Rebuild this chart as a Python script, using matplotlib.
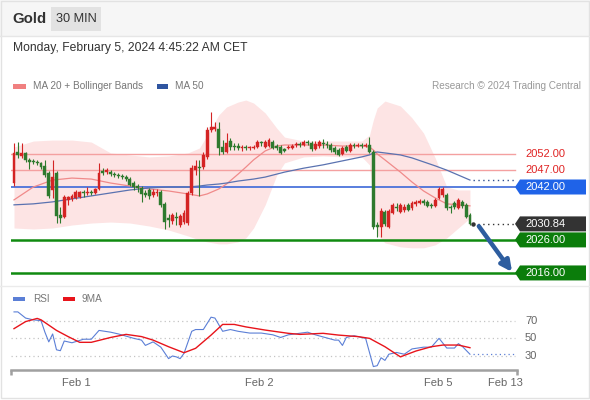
import matplotlib
matplotlib.use("Agg")
import matplotlib.pyplot as plt
import matplotlib.transforms as mtransforms
from matplotlib.patches import Polygon, Rectangle
from matplotlib.lines import Line2D

plt.rcParams['font.family'] = ['Liberation Sans', 'DejaVu Sans']

# ---------------- data ----------------
opens = [2043.2, 2052.6, 2051.4, 2052.3, 2050.2, 2049.9, 2049.6, 2049.3, 2048.4, 2046.2,
         2041.1, 2046.2, 2033.5, 2032.9, 2038.1, 2038.4, 2038.7, 2039.0, 2040.2, 2040.2,
         2040.5, 2040.2, 2041.4, 2046.8, 2046.5, 2046.5, 2045.9, 2045.6, 2045.3, 2045.0,
         2044.4, 2043.2, 2042.3, 2041.7, 2040.2, 2041.1, 2039.6, 2040.2, 2040.5, 2036.9,
         2032.6, 2031.7, 2032.9, 2030.5, 2031.4, 2031.1, 2040.2, 2047.1, 2048.2, 2048.0,
         2051.1, 2059.2, 2059.5, 2059.5, 2054.1, 2052.6, 2055.9, 2054.4, 2054.4, 2053.8,
         2054.1, 2053.8, 2053.8, 2054.1, 2055.3, 2054.1, 2054.4, 2055.6, 2054.4, 2054.1,
         2053.2, 2053.8, 2053.8, 2054.7, 2055.0, 2054.7, 2055.6, 2055.3, 2053.5, 2054.4,
         2055.3, 2055.0, 2054.7, 2053.8, 2053.2, 2052.0, 2054.1, 2052.9, 2054.7, 2054.4,
         2054.7, 2054.4, 2054.7, 2052.6, 2030.5, 2029.9, 2034.4, 2029.9, 2034.1, 2036.0,
         2034.4, 2035.0, 2036.6, 2035.6, 2036.9, 2037.2, 2037.8, 2037.5, 2036.6, 2036.3,
         2038.7, 2039.6, 2039.6, 2036.0, 2037.2, 2035.6, 2037.5, 2036.6, 2033.5]
highs = [2055.3, 2055.6, 2055.3, 2052.6, 2050.8, 2050.5, 2050.2, 2049.6, 2050.2, 2046.8,
         2050.2, 2046.8, 2036.0, 2039.6, 2039.3, 2039.9, 2041.1, 2040.8, 2041.1, 2042.0,
         2041.1, 2041.7, 2049.3, 2047.7, 2047.7, 2047.1, 2046.5, 2046.2, 2045.9, 2045.6,
         2045.0, 2043.8, 2042.9, 2042.3, 2041.1, 2041.7, 2041.4, 2041.4, 2041.1, 2037.5,
         2033.8, 2034.1, 2034.4, 2033.8, 2035.0, 2040.8, 2048.7, 2050.2, 2050.2, 2052.6,
         2060.1, 2064.7, 2061.7, 2061.7, 2056.2, 2058.3, 2056.8, 2055.3, 2055.3, 2054.7,
         2054.7, 2054.4, 2054.7, 2056.2, 2055.9, 2056.2, 2056.8, 2056.2, 2055.0, 2054.7,
         2053.8, 2054.7, 2055.0, 2055.6, 2055.6, 2056.2, 2056.2, 2055.9, 2055.9, 2056.2,
         2056.5, 2055.9, 2055.3, 2054.4, 2053.8, 2054.4, 2054.7, 2055.3, 2055.3, 2055.3,
         2055.3, 2055.3, 2057.1, 2053.2, 2031.4, 2035.6, 2035.0, 2035.3, 2037.2, 2037.2,
         2037.2, 2036.9, 2037.2, 2037.8, 2038.1, 2038.4, 2038.4, 2038.1, 2037.2, 2038.7,
         2042.0, 2042.0, 2040.2, 2036.6, 2037.8, 2038.7, 2038.1, 2037.2, 2034.1]
lows = [2042.3, 2050.8, 2050.8, 2049.6, 2047.4, 2049.0, 2048.7, 2047.4, 2045.0, 2038.7,
        2038.7, 2031.1, 2031.1, 2032.6, 2036.6, 2037.8, 2038.4, 2038.7, 2039.0, 2039.6,
        2039.6, 2039.9, 2041.1, 2045.6, 2045.9, 2045.3, 2045.0, 2044.7, 2044.4, 2043.8,
        2042.3, 2041.1, 2040.5, 2037.5, 2039.0, 2038.4, 2039.0, 2039.3, 2036.0, 2029.3,
        2029.9, 2030.8, 2030.5, 2029.9, 2030.8, 2030.5, 2039.6, 2045.6, 2039.3, 2047.4,
        2050.5, 2058.6, 2058.9, 2051.7, 2052.0, 2052.3, 2053.2, 2053.2, 2053.2, 2052.9,
        2053.2, 2053.2, 2053.5, 2053.8, 2054.4, 2053.8, 2054.1, 2053.5, 2053.2, 2052.0,
        2052.6, 2053.5, 2053.5, 2054.1, 2054.1, 2054.4, 2054.7, 2052.9, 2053.2, 2053.8,
        2053.8, 2053.8, 2052.6, 2052.0, 2051.4, 2051.7, 2052.6, 2052.6, 2053.8, 2054.1,
        2053.8, 2054.1, 2052.3, 2029.3, 2026.9, 2026.9, 2030.2, 2029.6, 2033.8, 2034.7,
        2034.1, 2034.4, 2034.7, 2035.0, 2036.3, 2036.9, 2036.6, 2036.0, 2035.6, 2036.0,
        2038.4, 2039.0, 2035.0, 2034.1, 2035.3, 2035.3, 2035.6, 2032.6, 2030.5]
closes = [2052.3, 2051.7, 2052.3, 2050.2, 2049.6, 2049.6, 2049.3, 2048.0, 2045.6, 2039.3,
          2045.0, 2033.2, 2032.6, 2039.0, 2039.0, 2039.3, 2040.5, 2040.5, 2040.1, 2040.5,
          2040.2, 2041.4, 2046.2, 2046.2, 2047.1, 2045.9, 2045.6, 2045.3, 2045.0, 2044.4,
          2042.6, 2042.0, 2041.7, 2039.9, 2039.6, 2039.3, 2040.5, 2040.5, 2036.6, 2031.4,
          2032.0, 2033.5, 2032.6, 2033.2, 2034.1, 2040.2, 2047.7, 2048.4, 2047.7, 2051.7,
          2059.2, 2060.1, 2060.1, 2053.8, 2052.6, 2055.3, 2054.1, 2054.1, 2053.8, 2054.1,
          2053.8, 2054.0, 2054.1, 2055.6, 2055.2, 2055.6, 2056.2, 2053.8, 2053.8, 2052.3,
          2053.0, 2054.1, 2054.4, 2055.0, 2054.7, 2055.6, 2055.3, 2053.5, 2055.0, 2055.6,
          2055.0, 2054.7, 2053.2, 2052.6, 2051.7, 2053.8, 2052.9, 2054.7, 2054.4, 2054.7,
          2054.4, 2054.7, 2052.6, 2029.9, 2029.9, 2034.7, 2030.8, 2034.7, 2036.6, 2035.6,
          2036.6, 2036.0, 2035.0, 2037.2, 2037.5, 2037.8, 2037.2, 2036.3, 2036.3, 2038.1,
          2041.4, 2041.4, 2035.6, 2035.6, 2036.0, 2038.1, 2036.3, 2032.9, 2030.84]

band_idx = [0, 5, 10, 15, 20, 25, 30, 35, 40, 45, 48, 50, 53, 55, 58, 60, 62, 65, 68, 70,
            75, 80, 85, 90, 92, 93, 94, 96, 100, 103, 106, 109, 112, 115, 118]
bb_upper = [2054.1, 2055.9, 2056.2, 2056.2, 2055.6, 2052.3, 2051.7, 2051.1, 2051.4, 2052.3,
            2053.8, 2057.7, 2063.8, 2066.2, 2067.7, 2068.3, 2067.4, 2064.4, 2059.8, 2057.1,
            2055.9, 2055.9, 2055.9, 2055.9, 2057.7, 2062.3, 2065.9, 2068.0, 2066.5, 2062.9,
            2058.3, 2050.8, 2042.0, 2041.1, 2041.1]
bb_lower = [2029.6, 2029.3, 2029.6, 2030.5, 2031.1, 2031.4, 2031.1, 2030.2, 2029.0, 2027.2,
            2026.0, 2025.4, 2024.8, 2024.8, 2025.4, 2026.6, 2029.6, 2036.6, 2045.6, 2049.3,
            2051.1, 2051.4, 2051.1, 2051.1, 2048.7, 2038.1, 2027.5, 2025.1, 2023.9, 2023.6,
            2023.6, 2024.5, 2026.6, 2029.6, 2032.6]
ma20 = [2038.1, 2042.0, 2044.1, 2044.7, 2044.4, 2043.2, 2042.3, 2041.4, 2040.8, 2039.9,
        2039.3, 2039.9, 2041.4, 2042.9, 2045.9, 2048.0, 2050.2, 2052.9, 2054.4, 2054.7,
        2054.7, 2054.7, 2054.4, 2054.4, 2054.1, 2053.2, 2052.0, 2050.2, 2046.5, 2043.5,
        2040.8, 2038.7, 2036.9, 2036.6, 2036.3]
ma50 = [2036.6, 2036.9, 2037.5, 2038.4, 2039.3, 2040.2, 2041.1, 2041.7, 2042.0, 2042.0,
        2042.3, 2042.6, 2042.9, 2043.2, 2043.8, 2044.1, 2044.4, 2045.0, 2045.9, 2046.5,
        2047.7, 2048.7, 2049.9, 2051.1, 2051.7, 2052.3, 2052.6, 2052.3, 2051.7, 2050.8,
        2049.6, 2048.4, 2047.1, 2045.6, 2044.1]

rsi_idx = [0, 1, 3, 5, 7, 8, 9, 10, 11, 12, 13, 15, 18, 20, 22, 25, 27, 31, 33, 34,
           36, 38, 40, 41, 42, 43, 44, 46, 47, 49, 51, 52, 54, 56, 58, 61, 64, 67, 69, 71,
           76, 78, 83, 84, 85, 86, 88, 90, 91, 93, 94, 95, 96, 97, 99, 101, 103, 106, 108, 110,
           112, 114, 115, 116, 118]
rsi = [80, 80, 73, 71, 70, 57, 46, 55, 37, 36, 47, 45, 49, 49, 59, 57, 55, 50, 48, 42,
       46, 40, 27, 30, 29, 27, 33, 58, 60, 60, 74, 73, 58, 60, 58, 56, 56, 54, 51, 54,
       57, 54, 48, 48, 42, 51, 53, 51, 50, 18, 19, 28, 25, 32, 34, 32, 38, 40, 40, 50,
       39, 39, 44, 41, 32]
ma9_idx = [0, 3, 6, 7, 11, 14, 17, 20, 25, 29, 33, 36, 40, 44, 47, 51, 54, 57, 60, 65,
           71, 74, 80, 84, 89, 92, 96, 100, 104, 108, 111, 115, 118]
rsi_ma9 = [61, 69, 72.6, 71, 59, 52, 45.5, 45.5, 51, 54.5, 52, 48, 40.5, 33.7, 38.7, 53.7,
           65.8, 65.8, 63, 59.4, 55.7, 54.5, 55.7, 53.7, 52, 50, 40.5, 29, 35.6, 40.5, 42.4,
           42.4, 39.4]

resist_levels = [2052.00, 2047.00]
pivot_level = 2042.00
support_levels = [2026.00, 2016.00]
rsi_levels = [70, 50, 30]
tick_labels = ["Feb 1", "Feb 2", "Feb 5", "Feb 13"]
tick_pos = [16.0, 63.4, 109.7, 127.1]

# ---------------- layout helpers ----------------
W, H = 590, 400
fig = plt.figure(figsize=(5.9, 4.0), dpi=100)
fig.patch.set_facecolor('white')

def fx(px):
    return px / W

def fy(py):
    return 1 - py / H

# header bar
fig.patches.append(Rectangle((0, fy(36)), 1, 36 / H, transform=fig.transFigure,
                             facecolor='#f6f6f6', edgecolor='none', zorder=0))
fig.add_artist(Line2D([0, 1], [fy(36), fy(36)], transform=fig.transFigure,
                      color='#e6e6e6', lw=1))
fig.patches.append(Rectangle((fx(51), fy(31)), fx(50), 24 / H, transform=fig.transFigure,
                             facecolor='#e2e2e2', edgecolor='none', zorder=1))
fig.text(fx(12), fy(19), "Gold", fontsize=10.8, fontweight='bold', color='#333333',
         va='center', ha='left')
fig.text(fx(76), fy(19), "30 MIN", fontsize=9.2, color='#333333', va='center', ha='center')
fig.text(fx(13), fy(48), "Monday, February 5, 2024 4:45:22 AM CET", fontsize=8.7,
         color='#333333', va='center', ha='left')

LEG_FS = 7.2
# legend main
fig.patches.append(Rectangle((fx(13), fy(88.5)), fx(13), 4.5 / H, transform=fig.transFigure,
                             facecolor='#f08080', edgecolor='none'))
fig.text(fx(33), fy(86), "MA 20 + Bollinger Bands", fontsize=LEG_FS, color='#777777',
         va='center', ha='left')
fig.patches.append(Rectangle((fx(157), fy(88.5)), fx(11), 4.5 / H, transform=fig.transFigure,
                             facecolor='#2f55a0', edgecolor='none'))
fig.text(fx(175), fy(86), "MA 50", fontsize=LEG_FS, color='#777777', va='center', ha='left')
fig.text(fx(581), fy(86), "Research \u00a9 2024 Trading Central", fontsize=LEG_FS,
         color='#999999', va='center', ha='right')

# separator and border
fig.add_artist(Line2D([0, 1], [fy(286), fy(286)], transform=fig.transFigure,
                      color='#ebebeb', lw=1))
fig.patches.append(Rectangle((fx(0.5), fy(397.5)), fx(588), 397 / H, transform=fig.transFigure,
                             facecolor='none', edgecolor='#e2e2e2', lw=1))

# legend RSI
fig.patches.append(Rectangle((fx(13), fy(301)), fx(12), 4.5 / H, transform=fig.transFigure,
                             facecolor='#5b7fd6', edgecolor='none'))
fig.text(fx(33), fy(298.5), "RSI", fontsize=LEG_FS, color='#777777', va='center', ha='left')
fig.patches.append(Rectangle((fx(63), fy(301)), fx(12), 4.5 / H, transform=fig.transFigure,
                             facecolor='#e8141b', edgecolor='none'))
fig.text(fx(82), fy(298.5), "9MA", fontsize=LEG_FS, color='#777777', va='center', ha='left')

# ---------------- main price axes ----------------
AX_L, AX_R = 11, 517
ax = fig.add_axes([fx(AX_L), fy(283), fx(AX_R - AX_L), (283 - 95) / H])
ax.set_facecolor('none')
x0 = 14.0
step = 3.864
xmin = (AX_L - x0) / step
xmax = (AX_R - x0) / step
ax.set_xlim(xmin, xmax)
ax.set_ylim(2012.96, 2069.83)
ax.axis('off')

def axfrac(px):
    return (px - AX_L) / (AX_R - AX_L)

# Bollinger band fill
ax.fill_between(band_idx, bb_lower, bb_upper, color='#fde4e4', lw=0, zorder=1)

# horizontal levels
for lv in resist_levels:
    ax.axhline(lv, xmin=0, xmax=axfrac(515), color='#f4a0a0', lw=1.0, zorder=2)
ax.axhline(pivot_level, xmin=0, xmax=axfrac(515), color='#3c68d8', lw=1.2, zorder=2)
for lv in support_levels:
    ax.axhline(lv, xmin=0, xmax=axfrac(515), color='#108a10', lw=1.8, zorder=2)

# moving averages
ax.plot(band_idx, ma20, color='#f08a8a', lw=0.9, zorder=3)
ax.plot(band_idx, ma50, color='#5a72b0', lw=0.9, zorder=3)

# candles
n = len(closes)
idx = list(range(n))
up_c = '#d42424'
dn_c = '#2e7a2e'
for i in idx:
    o, h, l, c = opens[i], highs[i], lows[i], closes[i]
    col = up_c if c >= o else dn_c
    ax.vlines(i, l, h, color=col, lw=0.8, zorder=4)
    bot = min(o, c)
    ht = max(abs(c - o), 0.35)
    ax.bar(i, ht, bottom=bot, width=0.75, color=col, edgecolor=col, lw=0.3, zorder=5)

# dotted extensions
x_end = (515 - x0) / step
last = n - 1
ax.plot([last + 0.8, x_end], [ma50[-1], ma50[-1]], color='#2f4f8f', lw=1.0,
        ls=(0, (1, 2.5)), zorder=3)
ax.plot([last + 0.8, x_end], [closes[-1], closes[-1]], color='#333333', lw=1.0,
        ls=(0, (1, 2.5)), zorder=3)
ax.plot([last + 0.8], [closes[-1]], marker='o', ms=2.2, color='#333333', zorder=6)

# forecast arrow
ax.annotate('', xy=(128.9, support_levels[1] + 0.3), xytext=(120.3, closes[-1] - 0.7),
            arrowprops=dict(arrowstyle='-|>', color='#2d5d9f', lw=3.2,
                            mutation_scale=16, shrinkA=0, shrinkB=0),
            zorder=7, annotation_clip=False)

# right tags
trans = mtransforms.blended_transform_factory(ax.transAxes, ax.transData)
half_h = 7.5 / 3.306

def tag(price, text, face, txtcol):
    if face is not None:
        pts = [(axfrac(515), price), (axfrac(520), price + half_h),
               (axfrac(586), price + half_h), (axfrac(586), price - half_h),
               (axfrac(520), price - half_h)]
        ax.add_patch(Polygon(pts, closed=True, transform=trans, facecolor=face,
                             edgecolor='none', clip_on=False, zorder=8))
    ax.text(axfrac(525), price, text, transform=trans, fontsize=8, color=txtcol,
            va='center', ha='left', clip_on=False, zorder=9)

for lv in resist_levels:
    tag(lv, f"{lv:.2f}", None, '#e02424')
tag(pivot_level, f"{pivot_level:.2f}", '#1f63e8', 'white')
tag(closes[-1], f"{closes[-1]:.2f}", '#333333', 'white')
for lv in support_levels:
    tag(lv, f"{lv:.2f}", '#0b7d0b', 'white')

# ---------------- RSI axes ----------------
ax2 = fig.add_axes([fx(AX_L), fy(370), fx(AX_R - AX_L), 70 / H])
ax2.set_facecolor('none')
ax2.set_xlim(xmin, xmax)
ax2.set_ylim(14.1, 93.5)
for s in ['top', 'right', 'left']:
    ax2.spines[s].set_visible(False)
ax2.spines['bottom'].set_color('#a0a0a0')
ax2.spines['bottom'].set_linewidth(1.8)
ax2.set_yticks([])
ax2.set_xticks(tick_pos)
ax2.set_xticklabels(tick_labels)
ax2.tick_params(axis='x', length=0, pad=6, labelsize=8, labelcolor='#666666')

for lv in rsi_levels:
    ax2.axhline(lv, xmin=0, xmax=axfrac(515), color='#c4c4c4', lw=0.9,
                ls=(0, (1, 2.5)), zorder=1)
    ax2.text(axfrac(525), lv, str(lv), transform=mtransforms.blended_transform_factory(
        ax2.transAxes, ax2.transData), fontsize=8, color='#666666', va='center',
        ha='left', clip_on=False)

ax2.plot(rsi_idx, rsi, color='#5b7fd6', lw=0.8, zorder=3)
ax2.plot(ma9_idx, rsi_ma9, color='#e8141b', lw=1.0, zorder=4)
ax2.plot([rsi_idx[-1] + 0.8, x_end], [rsi[-1], rsi[-1]], color='#5b7fd6', lw=0.9,
         ls=(0, (1, 2.5)), zorder=3)

# axis end hooks
hook = 5 / 70
for xf in [0.0, 1.0]:
    ax2.plot([xf, xf], [0, -hook], transform=ax2.transAxes, color='#a0a0a0', lw=1.8,
             clip_on=False, solid_capstyle='butt')

fig.savefig('out.png', dpi=100, facecolor='white')
